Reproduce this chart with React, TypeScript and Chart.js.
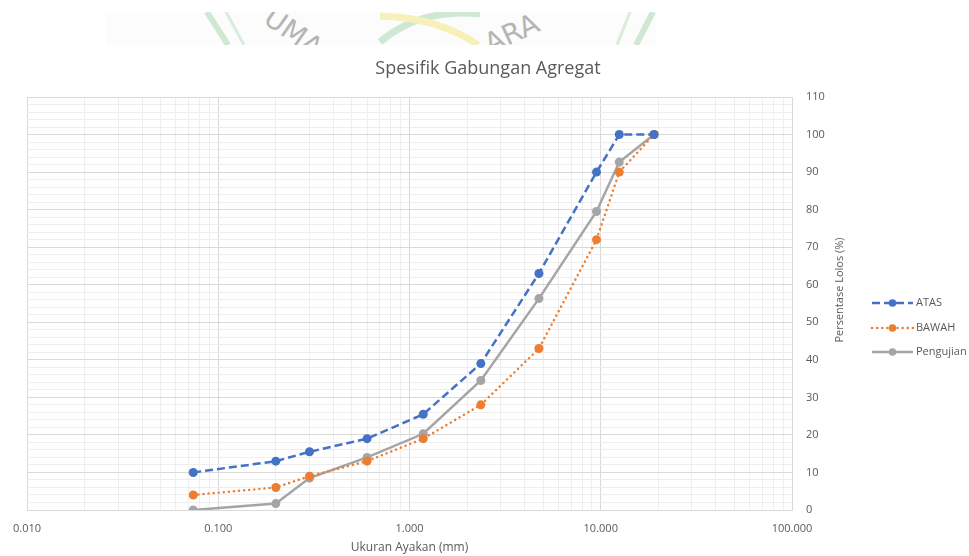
import React, { useEffect, useRef } from 'react';
import { Chart, registerables } from 'chart.js';

Chart.register(...registerables);

// ---- data ----
const sieveSizes = [0.074, 0.2, 0.3, 0.6, 1.18, 2.36, 4.75, 9.5, 12.5, 19];
const atas = [10, 13, 15.5, 19, 25.5, 39, 63, 90, 100, 100];
const bawah = [4, 6, 9, 13, 19, 28, 43, 72, 90, 100];
const pengujian = [0, 1.7, 8.5, 14, 20.3, 34.5, 56.3, 79.5, 92.7, 100];

const xDecades = [0.01, 0.1, 1, 10, 100];
const xTickLabels = ['0.010', '0.100', '1.000', '10.000', '100.000'];
const yMajorTicks = [0, 10, 20, 30, 40, 50, 60, 70, 80, 90, 100, 110];

const chartTitle = 'Spesifik Gabungan Agregat';
const xTitle = 'Ukuran Ayakan (mm)';
const yTitle = 'Persentase Lolos (%)';
const seriesNames = ['ATAS', 'BAWAH', 'Pengujian'];

const COLORS = ['#4472C4', '#ED7D31', '#A5A5A5'];
const DASHES = [[8, 4], [0.1, 5], []];
const TEXT = '#595959';
const FONT = '"Open Sans", "Noto Sans", sans-serif';

function isDecade(v: number) {
  const l = Math.log10(v);
  return Math.abs(l - Math.round(l)) < 1e-9;
}

const extras = {
  id: 'extras',
  afterDraw(chart: any) {
    const ctx = chart.ctx;
    const area = chart.chartArea;
    ctx.save();
    // title
    ctx.fillStyle = TEXT;
    ctx.font = `18px ${FONT}`;
    ctx.textAlign = 'center';
    ctx.textBaseline = 'middle';
    ctx.fillText(chartTitle, 488, 69);
    // x title
    ctx.font = `12px ${FONT}`;
    ctx.fillText(xTitle, (area.left + area.right) / 2, 548);
    // y title (rotated, reading bottom to top)
    ctx.font = `11px ${FONT}`;
    ctx.save();
    ctx.translate(840, 290);
    ctx.rotate(-Math.PI / 2);
    ctx.fillText(yTitle, 0, 0);
    ctx.restore();
    // legend
    const ys = [303, 328, 352];
    chart.data.datasets.forEach((ds: any, i: number) => {
      const y = ys[i];
      ctx.strokeStyle = COLORS[i];
      ctx.lineWidth = 2.5;
      ctx.lineCap = i === 1 ? 'round' : 'butt';
      ctx.setLineDash(DASHES[i]);
      ctx.beginPath();
      ctx.moveTo(872, y);
      ctx.lineTo(913, y);
      ctx.stroke();
      ctx.setLineDash([]);
      ctx.fillStyle = COLORS[i];
      ctx.beginPath();
      ctx.arc(892.5, y, 3.8, 0, Math.PI * 2);
      ctx.fill();
      ctx.fillStyle = TEXT;
      ctx.textAlign = 'left';
      ctx.font = `11px ${FONT}`;
      ctx.fillText(ds.label, 916, y);
    });
    ctx.restore();
  },
};

function makeDataset(label: string, values: number[], i: number) {
  return {
    label,
    data: sieveSizes.map((x, k) => ({ x, y: values[k] })),
    borderColor: COLORS[i],
    backgroundColor: COLORS[i],
    borderWidth: 2.5,
    borderDash: DASHES[i],
    borderCapStyle: i === 1 ? 'round' : 'butt',
    pointRadius: 4.5,
    pointBorderWidth: 0,
    pointBackgroundColor: COLORS[i],
    tension: 0,
    fill: false,
  } as any;
}

export default function App() {
  const ref = useRef<HTMLCanvasElement>(null);
  useEffect(() => {
    const canvas = ref.current!;
    const chart = new Chart(canvas, {
      type: 'line',
      data: {
        datasets: [
          makeDataset(seriesNames[0], atas, 0),
          makeDataset(seriesNames[1], bawah, 1),
          makeDataset(seriesNames[2], pengujian, 2),
        ],
      },
      options: {
        responsive: false,
        animation: false,
        layout: { padding: { left: 27, top: 97, right: 0, bottom: 0 } },
        plugins: {
          legend: { display: false },
          title: { display: false },
          tooltip: { enabled: false },
        },
        scales: {
          x: {
            type: 'logarithmic',
            min: 0.01,
            max: 100,
            afterBuildTicks: (s: any) => {
              const t: any[] = [];
              for (let d = 0; d < xDecades.length - 1; d++) {
                for (let m = 1; m <= 9; m++) t.push({ value: xDecades[d] * m, major: m === 1 });
              }
              t.push({ value: xDecades[xDecades.length - 1], major: true });
              s.ticks = t;
            },
            afterFit: (s: any) => {
              s.height = 46;
            },
            ticks: {
              autoSkip: false,
              maxRotation: 0,
              minRotation: 0,
              padding: 12,
              color: TEXT,
              font: { family: FONT, size: 11 },
              callback: (v: any) => {
                const idx = xDecades.findIndex((d) => Math.abs(d - v) / d < 1e-9);
                return idx >= 0 ? xTickLabels[idx] : '';
              },
            },
            grid: {
              drawTicks: false,
              lineWidth: 1,
              color: (c: any) => (c.tick && isDecade(c.tick.value) ? '#d9d9d9' : '#eeeeee'),
            },
            border: { display: true, color: '#d9d9d9' },
          },
          y: {
            type: 'linear',
            position: 'right',
            min: 0,
            max: 110,
            afterBuildTicks: (s: any) => {
              const t: any[] = [];
              for (let v = 0; v <= 110; v += 2) t.push({ value: v });
              s.ticks = t;
            },
            afterFit: (s: any) => {
              s.width = 177;
            },
            ticks: {
              autoSkip: false,
              padding: 14,
              color: TEXT,
              font: { family: FONT, size: 11 },
              callback: (v: any) => (yMajorTicks.includes(v) ? String(v) : ''),
            },
            grid: {
              drawTicks: false,
              lineWidth: 1,
              color: (c: any) => (c.tick && c.tick.value % 10 === 0 ? '#d9d9d9' : '#eeeeee'),
            },
            border: { display: true, color: '#d9d9d9' },
          },
        },
      },
      plugins: [extras],
    });
    return () => chart.destroy();
  }, []);

  return (
    <div style={{ position: 'absolute', left: 0, top: 0, width: 969, height: 556, background: '#fff', overflow: 'hidden' }}>
      {/* faint scanned watermark band above the chart, clipped to its band */}
      <svg style={{ position: 'absolute', left: 106, top: 12, overflow: 'hidden' }} width={550} height={33}>
        <rect x={0} y={0} width={550} height={33} fill="#fcfcfc" />
        <g transform="translate(-106,-12)">
          <line x1={207} y1={12} x2={228} y2={45} stroke="#cfe8d4" strokeWidth={6} />
          <line x1={226} y1={12} x2={244} y2={45} stroke="#d8eedc" strokeWidth={3} />
          <line x1={653} y1={12} x2={636} y2={45} stroke="#cfe8d4" strokeWidth={6} />
          <line x1={630} y1={12} x2={617} y2={45} stroke="#d8eedc" strokeWidth={3} />
          <path d="M 380 42 Q 420 8 480 14" stroke="#cfe8d4" strokeWidth={7} fill="none" />
          <path d="M 380 16 Q 440 18 478 45" stroke="#f7f0b8" strokeWidth={7} fill="none" />
          <text x={262} y={22} fill="#b5b5b5" fontSize={28} fontFamily="DejaVu Sans" transform="rotate(35 262 22)">UMA</text>
          <text x={490} y={54} fill="#b5b5b5" fontSize={28} fontFamily="DejaVu Sans" transform="rotate(-25 490 54)">ARA</text>
        </g>
      </svg>
      <canvas ref={ref} width={969} height={556} style={{ position: 'absolute', left: 0, top: 0, display: 'block' }} />
    </div>
  );
}
